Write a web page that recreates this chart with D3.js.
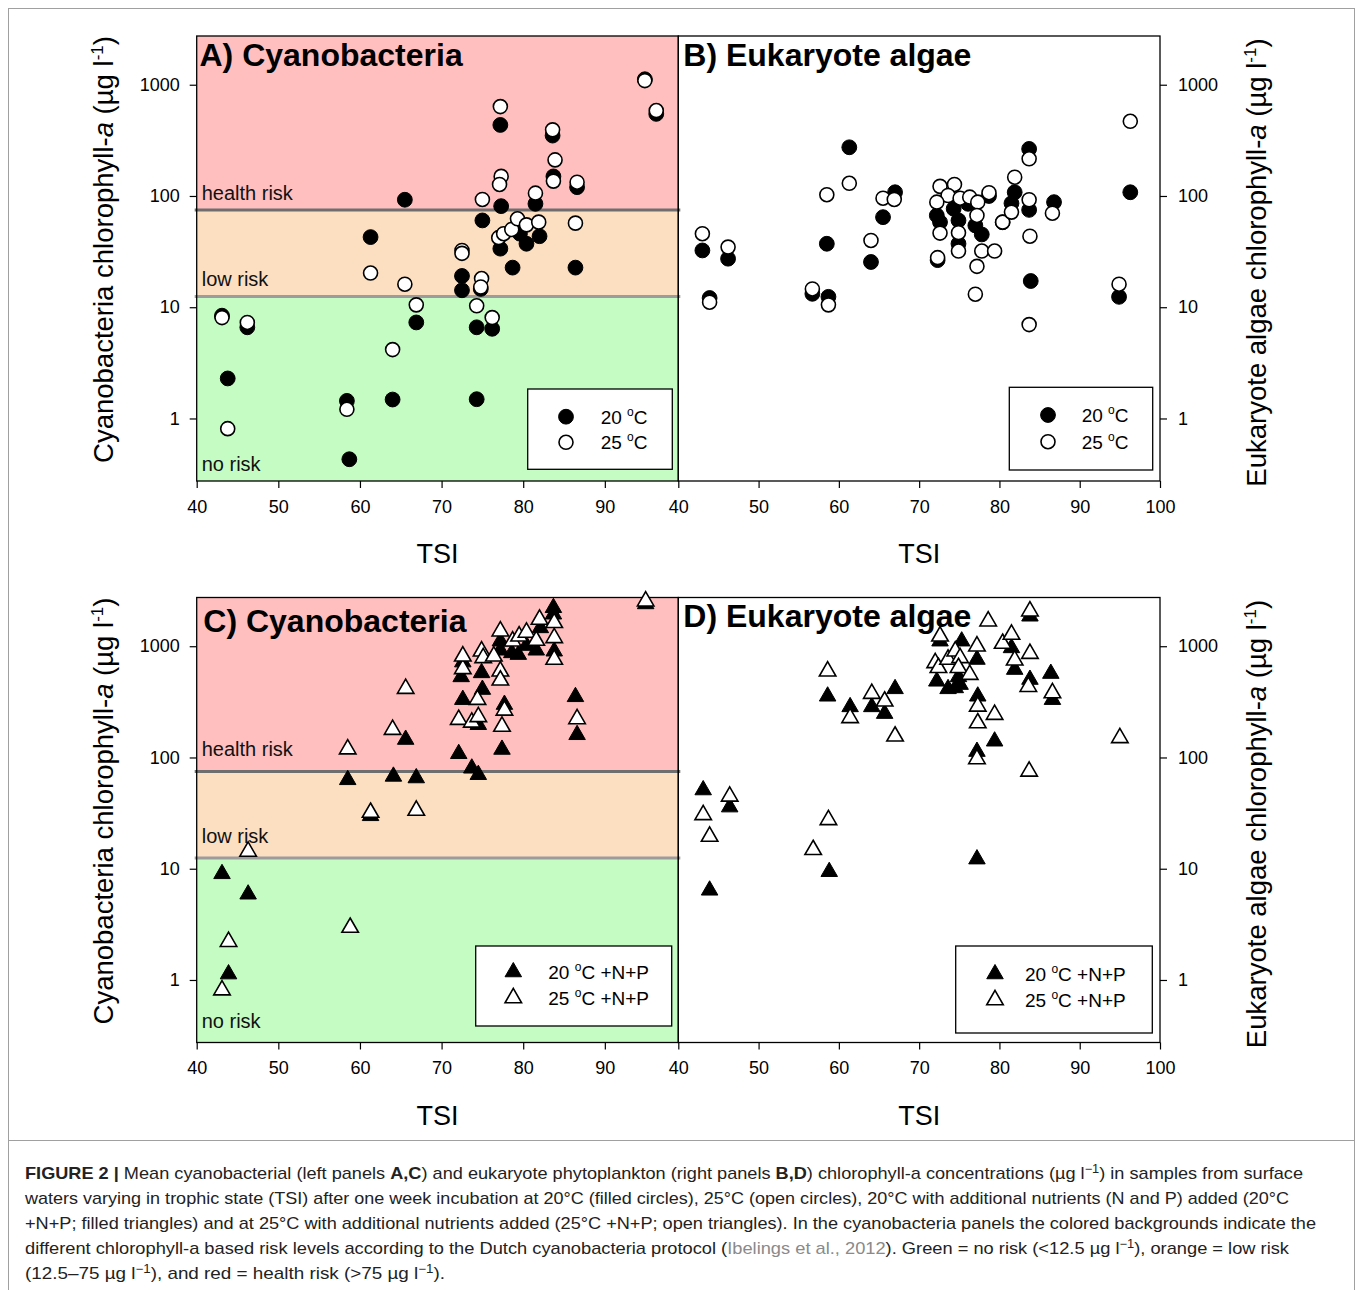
<!DOCTYPE html>
<html><head><meta charset="utf-8">
<script src="https://cdn.jsdelivr.net/npm/d3@7"></script>
<style>body{margin:0;background:#fff;} svg{display:block;}</style>
</head><body>
<svg id="c" width="1358" height="1290"></svg>
<script>
// ---------- data ----------
const xTicksLeft = [40, 50, 60, 70, 80, 90];
const xTicksRight = [40, 50, 60, 70, 80, 90, 100];
const yTicks = [1, 10, 100, 1000];
const riskLevels = [12.5, 75];
const riskLabels = ["no risk", "low risk", "health risk"];

// Panel A: cyanobacteria, 20 °C (filled circles)
const cyanoA_20C = [[43.1,8.4],[46.2,6.6],[43.8,2.29],[58.4,1.44],[58.7,0.43],[61.3,42.7],[64.0,1.48],[65.5,92.5],[66.9,7.3],[72.5,19.1],[72.5,14.2],[74.3,6.6],[74.3,1.49],[74.8,14.6],[75.0,60.3],[76.2,6.4],[77.2,435],[77.3,81],[77.2,33.6],[78.7,22.7],[79.6,45.8],[80.4,37.2],[81.5,85],[82.0,43.5],[83.6,349],[83.7,150],[86.4,22.7],[86.6,120],[94.9,1120],[96.3,547]];
// Panel A: cyanobacteria, 25 °C (open circles)
const cyanoA_25C = [[43.1,8.07],[46.2,7.3],[43.8,0.81],[58.4,1.21],[61.3,20.3],[64.0,4.16],[65.5,16.1],[66.9,10.5],[72.5,32.4],[72.5,30.5],[74.3,10.3],[74.9,18.1],[74.8,15.2],[75.0,93],[76.2,8.07],[77.2,636],[77.3,150],[77.1,127],[77.0,42.2],[77.6,45.8],[78.6,50],[79.3,62.4],[80.4,55],[81.9,58.2],[81.5,106],[83.6,393],[83.9,211],[83.7,136],[86.6,133],[86.4,57],[94.9,1089],[96.3,586]];
// Panel B: eukaryote algae, 20 °C
const eukB_20C = [[43.0,32.4],[46.2,27.3],[43.9,12.1],[56.7,13.2],[58.5,37.2],[58.7,12.4],[61.3,274],[64.0,25.5],[65.5,64.5],[67.0,108],[72.2,66.8],[72.6,58.2],[72.3,26.5],[74.3,76.8],[74.9,60.3],[74.9,37.2],[76.1,85],[77.0,54.3],[77.8,45.1],[78.7,100],[80.4,58],[81.5,86],[81.9,108],[83.7,265],[83.7,75],[83.9,17.2],[86.8,88],[94.9,12.4],[96.3,108]];
// Panel B: eukaryote algae, 25 °C
const eukB_25C = [[43.0,45.8],[46.2,34.7],[43.9,11.1],[56.7,14.6],[58.5,102.6],[58.7,10.5],[61.3,130],[64.0,39.8],[65.5,95.5],[66.9,93],[72.6,122],[74.4,127],[73.6,101],[72.2,88],[75.1,95.5],[76.3,97.6],[77.3,88],[78.7,107],[72.6,46.4],[74.9,46.8],[74.9,32],[77.2,66.8],[77.8,32],[79.4,32],[77.2,23.3],[77.0,13.1],[72.3,27.9],[80.4,58.2],[81.5,71.6],[81.9,147.5],[83.7,92.5],[83.8,43.5],[83.7,216],[83.7,6.98],[86.6,70],[94.9,16.1],[96.3,469]];
// Panel C: cyanobacteria, 20 °C +N+P (filled triangles)
const cyanoC_20NP = [[43.1,9.0],[46.3,5.9],[43.9,1.13],[58.5,63],[61.3,29.9],[64.1,67.6],[65.6,145],[66.9,65.4],[72.1,108],[72.4,530],[72.6,331],[72.6,720],[73.7,80],[74.5,70],[74.5,197],[74.9,576],[75.0,408],[77.2,920],[77.2,1110],[77.4,118],[77.7,299],[78.6,871],[79.4,841],[80.4,1014],[81.6,920],[82.1,1462],[83.7,2217],[83.7,1940],[83.8,902],[86.4,351],[86.6,160],[95.0,2400]];
// Panel C: cyanobacteria, 25 °C +N+P (open triangles)
const cyanoC_25NP = [[43.1,0.81],[43.9,2.21],[46.3,14.3],[58.5,119],[58.8,2.96],[61.3,32],[64.0,178],[65.6,416],[66.9,33.4],[72.1,219],[72.6,626],[72.6,813],[73.7,207],[74.4,331],[74.5,232],[74.9,902],[75.1,786],[76.4,813],[77.2,1365],[77.2,596],[77.2,494],[77.4,190],[77.7,265],[78.7,1110],[79.5,1230],[80.4,1330],[81.6,1125],[82.0,1740],[83.8,1625],[83.8,1190],[83.8,760],[86.6,222],[95.0,2540]];
// Panel D: eukaryote algae, 20 °C +N+P
const eukD_20NP = [[43.1,51],[43.9,6.4],[46.4,35.8],[58.6,355],[58.8,9.4],[61.4,285],[64.1,285],[65.7,248],[67.0,414],[72.2,484],[72.6,1110],[73.6,414],[74.5,422],[75.1,452],[74.9,530],[75.3,1110],[77.2,760],[77.3,355],[77.2,113],[77.2,12.2],[79.4,140],[81.5,966],[81.9,617],[83.8,1860],[83.8,502],[86.4,568],[86.6,331]];
// Panel D: eukaryote algae, 25 °C +N+P
const eukD_25NP = [[43.1,30.5],[43.9,19.5],[46.4,44.7],[56.8,14.8],[58.6,596],[58.7,27.5],[61.4,227],[64.1,375],[65.7,320],[67.0,155],[72.0,709],[72.4,640],[72.6,1230],[73.6,760],[74.5,902],[75.1,786],[74.9,640],[76.3,556],[77.2,1000],[77.3,288],[77.3,204],[77.2,97],[78.6,1680],[79.4,243],[80.4,1057],[81.5,1275],[81.9,748],[83.8,2065],[83.8,859],[83.6,433],[83.7,75],[86.6,380],[95.0,150]];

const legendCircles = ["20 °C", "25 °C"];
const legendTriangles = ["20 °C +N+P", "25 °C +N+P"];

// ---------- drawing ----------
const FONT = 'Arial, "Liberation Sans", Helvetica, sans-serif';
const svg = d3.select("#c").style("font-family", FONT);
const yDomain = [Math.pow(10, -0.562), Math.pow(10, 3.438)];
const bandColors = ["#c4fcc4", "#fcdfc0", "#ffbfbf"];
const lineColors = ["#9c9c9c", "#6e6e6e"];

// figure frame
svg.append("rect").attr("x", 8.5).attr("y", 8.5).attr("width", 1346).attr("height", 1300)
  .attr("fill", "none").attr("stroke", "#a0a0a0").attr("stroke-width", 1);
svg.append("line").attr("x1", 8).attr("x2", 1355).attr("y1", 1140.5).attr("y2", 1140.5)
  .attr("stroke", "#a0a0a0").attr("stroke-width", 1);

const panels = [
  {title: "A) Cyanobacteria", tx: 199.5, ty: 66, xRange: [196.7, 678.3], xDomain: [40, 99], xTicks: xTicksLeft,
   top: 36, bottom: 481, risk: true, riskOff: 10, yAxis: "left", filled: cyanoA_20C, open: cyanoA_25C, sym: "circle",
   legend: {x0: 527.7, y0: 389, x1: 672.3, y1: 469.3, sx: 566, sy: [416.7, 442.3], tx: 600.7, labels: legendCircles}},
  {title: "B) Eukaryote algae", tx: 683.3, ty: 66, xRange: [678.3, 1160], xDomain: [40, 100], xTicks: xTicksRight,
   top: 36, bottom: 481, risk: false, yAxis: "right", filled: eukB_20C, open: eukB_25C, sym: "circle",
   legend: {x0: 1009.3, y0: 387.3, x1: 1152.7, y1: 470, sx: 1048, sy: [415, 441.7], tx: 1081.7, labels: legendCircles}},
  {title: "C) Cyanobacteria", tx: 203.3, ty: 632, xRange: [196.7, 678.3], xDomain: [40, 99], xTicks: xTicksLeft,
   top: 597.5, bottom: 1042.5, risk: true, riskOff: 15, yAxis: "left", filled: cyanoC_20NP, open: cyanoC_25NP, sym: "triangle",
   legend: {x0: 475.7, y0: 946, x1: 671.7, y1: 1026, sx: 513.3, sy: [972, 998], tx: 548.3, labels: legendTriangles}},
  {title: "D) Eukaryote algae", tx: 683.3, ty: 627, xRange: [678.3, 1160], xDomain: [40, 100], xTicks: xTicksRight,
   top: 597.5, bottom: 1042.5, risk: false, yAxis: "right", filled: eukD_20NP, open: eukD_25NP, sym: "triangle",
   legend: {x0: 955.7, y0: 946, x1: 1152.3, y1: 1033, sx: 995, sy: [974, 1000], tx: 1025, labels: legendTriangles}}
];

const triPath = d3.symbol().type(d3.symbolTriangle).size(118)();

// writes text parts; superscripts raise by supDy and the following part drops back
function addSup(textSel, parts, size, supSize, supDy) {
  let pending = 0;
  parts.forEach(pt => {
    const ts = textSel.append("tspan").text(pt.t);
    if (pt.sup) {
      ts.attr("dy", -supDy + pending).attr("font-size", supSize);
      pending = supDy;
      return;
    }
    if (pending) { ts.attr("dy", pending); pending = 0; }
    ts.attr("font-size", size);
    if (pt.b) ts.attr("font-weight", "bold");
    if (pt.i) ts.attr("font-style", "italic");
    if (pt.c) ts.attr("fill", pt.c);
  });
}

panels.forEach(p => {
  const x = d3.scaleLinear().domain(p.xDomain).range(p.xRange);
  const y = d3.scaleLog().domain(yDomain).range([p.bottom, p.top]);
  const g = svg.append("g");
  const w = p.xRange[1] - p.xRange[0];

  if (p.risk) {
    const edges = [yDomain[0], riskLevels[0], riskLevels[1], yDomain[1]];
    for (let i = 0; i < 3; i++) {
      g.append("rect").attr("x", p.xRange[0]).attr("width", w)
        .attr("y", y(edges[i + 1])).attr("height", y(edges[i]) - y(edges[i + 1]))
        .attr("fill", bandColors[i]);
    }
    riskLevels.forEach((lv, i) => {
      g.append("line").attr("x1", p.xRange[0] - 2).attr("x2", p.xRange[1] + 2)
        .attr("y1", y(lv)).attr("y2", y(lv)).attr("stroke", lineColors[i]).attr("stroke-width", 3);
    });
    const labY = [p.bottom, y(riskLevels[0]), y(riskLevels[1])];
    riskLabels.forEach((t, i) => {
      g.append("text").attr("x", p.xRange[0] + 5).attr("y", labY[i] - p.riskOff)
        .attr("font-size", 20).attr("fill", "#111").text(t);
    });
  }

  // frame
  g.append("rect").attr("x", p.xRange[0]).attr("y", p.top).attr("width", w).attr("height", p.bottom - p.top)
    .attr("fill", "none").attr("stroke", "#000").attr("stroke-width", 1.3);

  // x axis
  const xa = g.append("g").attr("transform", `translate(0,${p.bottom})`)
    .call(d3.axisBottom(x).tickValues(p.xTicks).tickSize(7).tickPadding(12).tickFormat(d3.format("d")));
  xa.select(".domain").remove();
  xa.selectAll("line").attr("stroke", "#000").attr("stroke-width", 1.2);
  xa.selectAll("text").attr("font-size", 18).attr("font-family", FONT).attr("fill", "#000");

  g.append("text").attr("x", (p.xRange[0] + p.xRange[1]) / 2).attr("y", p.bottom + 82)
    .attr("text-anchor", "middle").attr("font-size", 27).attr("fill", "#000").text("TSI");

  // y axis
  const left = p.yAxis === "left";
  const ya = g.append("g").attr("transform", `translate(${left ? p.xRange[0] : p.xRange[1]},0)`)
    .call((left ? d3.axisLeft(y).tickPadding(10) : d3.axisRight(y).tickPadding(11))
      .tickValues(yTicks).tickSize(7).tickFormat(d3.format("d")));
  ya.select(".domain").remove();
  ya.selectAll("line").attr("stroke", "#000").attr("stroke-width", 1.2);
  ya.selectAll("text").attr("font-size", 18).attr("font-family", FONT).attr("fill", "#000");
  const cy = (p.top + p.bottom) / 2 + (left ? -9 : 4);
  const tX = left ? 113 : 1266;
  const t = g.append("text").attr("transform", `translate(${tX},${cy}) rotate(-90)`)
    .attr("text-anchor", "middle").attr("font-size", 27.5).attr("fill", "#000");
  addSup(t, [{t: (left ? "Cyanobacteria" : "Eukaryote algae") + " chlorophyll-"}, {t: "a", i: true},
    {t: " (\u00b5g l"}, {t: "-1", sup: true}, {t: ")"}], 27.5, 17, 10);

  // points: filled first, open on top
  if (p.sym === "circle") {
    g.append("g").selectAll("circle").data(p.filled).join("circle")
      .attr("cx", d => x(d[0])).attr("cy", d => y(d[1])).attr("r", 7.4)
      .attr("fill", "#000").attr("stroke", "#000").attr("stroke-width", 1);
    g.append("g").selectAll("circle").data(p.open).join("circle")
      .attr("cx", d => x(d[0])).attr("cy", d => y(d[1])).attr("r", 7.0)
      .attr("fill", "#fff").attr("stroke", "#000").attr("stroke-width", 1.6);
  } else {
    g.append("g").selectAll("path").data(p.filled).join("path")
      .attr("d", triPath).attr("transform", d => `translate(${x(d[0])},${y(d[1])})`)
      .attr("fill", "#000").attr("stroke", "#000").attr("stroke-width", 1);
    g.append("g").selectAll("path").data(p.open).join("path")
      .attr("d", triPath).attr("transform", d => `translate(${x(d[0])},${y(d[1])})`)
      .attr("fill", "#fff").attr("stroke", "#000").attr("stroke-width", 1.6);
  }

  // title
  g.append("text").attr("x", p.tx).attr("y", p.ty).attr("font-size", 32).attr("font-weight", "bold")
    .attr("fill", "#000").text(p.title);

  // legend
  const L = p.legend;
  g.append("rect").attr("x", L.x0).attr("y", L.y0).attr("width", L.x1 - L.x0).attr("height", L.y1 - L.y0)
    .attr("fill", "#fff").attr("stroke", "#000").attr("stroke-width", 1.3);
  L.labels.forEach((lab, i) => {
    const filled = i === 0;
    if (p.sym === "circle") {
      g.append("circle").attr("cx", L.sx).attr("cy", L.sy[i]).attr("r", filled ? 7.4 : 7.0)
        .attr("fill", filled ? "#000" : "#fff").attr("stroke", "#000").attr("stroke-width", filled ? 1 : 1.6);
    } else {
      g.append("path").attr("d", triPath).attr("transform", `translate(${L.sx},${L.sy[i]})`)
        .attr("fill", filled ? "#000" : "#fff").attr("stroke", "#000").attr("stroke-width", filled ? 1 : 1.6);
    }
    const parts = lab.split("°");
    const lt = g.append("text").attr("x", L.tx).attr("y", L.sy[i] + 7).attr("font-size", 19).attr("fill", "#000");
    addSup(lt, [{t: parts[0]}, {t: "o", sup: true}, {t: parts[1]}], 19, 12, 8);
  });
});

// ---------- caption ----------
const capLines = [
  {w: 1278, parts: [{t: "FIGURE 2 |", b: true}, {t: " Mean cyanobacterial (left panels "}, {t: "A,C", b: true}, {t: ") and eukaryote phytoplankton (right panels "}, {t: "B,D", b: true}, {t: ") chlorophyll-a concentrations (\u00b5g l"}, {t: "\u22121", sup: true}, {t: ") in samples from surface"}]},
  {w: 1264, parts: [{t: "waters varying in trophic state (TSI) after one week incubation at 20\u00b0C (filled circles), 25\u00b0C (open circles), 20\u00b0C with additional nutrients (N and P) added (20\u00b0C"}]},
  {w: 1291, parts: [{t: "+N+P; filled triangles) and at 25\u00b0C with additional nutrients added (25\u00b0C +N+P; open triangles). In the cyanobacteria panels the colored backgrounds indicate the"}]},
  {w: 1264, parts: [{t: "different chlorophyll-a based risk levels according to the Dutch cyanobacteria protocol ("}, {t: "Ibelings et al., 2012", c: "#8a8a8a"}, {t: "). Green = no risk (<12.5 \u00b5g l"}, {t: "\u22121", sup: true}, {t: "), orange = low risk"}]},
  {w: 420, parts: [{t: "(12.5\u201375 \u00b5g l"}, {t: "\u22121", sup: true}, {t: "), and red = health risk (>75 \u00b5g l"}, {t: "\u22121", sup: true}, {t: ")."}]}
];
capLines.forEach((ln, i) => {
  const t = svg.append("text").attr("x", 25).attr("y", 1179 + i * 25).attr("font-size", 17)
    .attr("fill", "#222").attr("textLength", ln.w).attr("lengthAdjust", "spacingAndGlyphs");
  addSup(t, ln.parts, 17, 12, 6);
});
</script>
</body></html>
